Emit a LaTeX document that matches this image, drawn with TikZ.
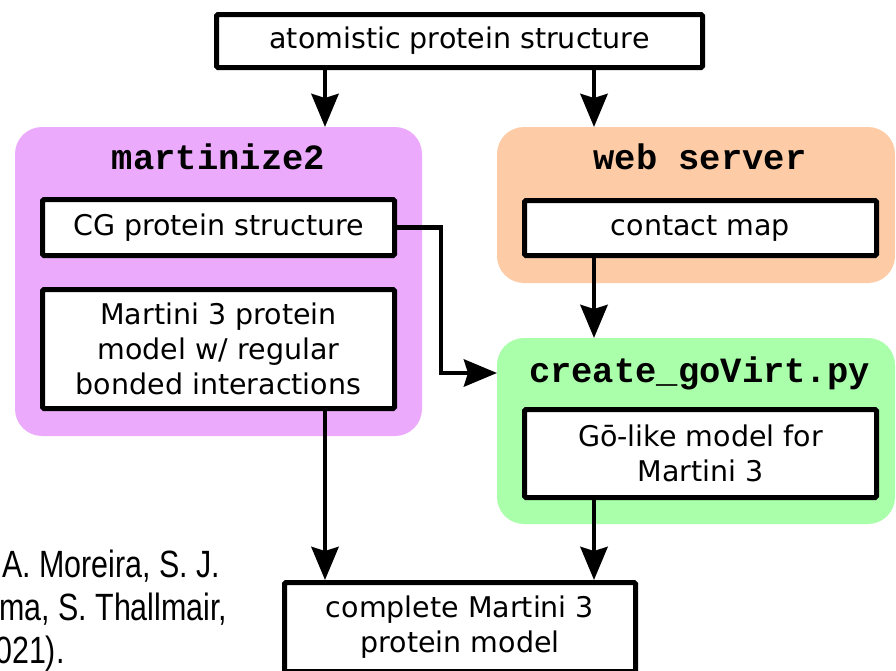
\documentclass[tikz,border=0pt]{standalone}
\usepackage{fontspec}
\setmainfont{DejaVu Sans}
\setmonofont{Liberation Mono}
\newfontfamily\citefont[FakeStretch=0.8]{Liberation Sans}
\usetikzlibrary{arrows.meta}
\definecolor{purplebg}{RGB}{236,170,252}
\definecolor{orangebg}{RGB}{253,203,166}
\definecolor{greenbg}{RGB}{170,255,170}
\begin{document}
\begin{tikzpicture}[x=1pt,y=-1pt,
  wbox/.style={draw=black, line width=5pt, fill=white, rounded corners=1.5pt,
    inner sep=0pt, outer sep=2.5pt, align=center,
    font=\fontsize{28.5}{35}\selectfont},
  grp/.style={rounded corners=27pt, inner sep=0pt, outer sep=0pt},
  ttl/.style={font=\fontsize{35.5}{40}\selectfont\ttfamily\bfseries,
    inner sep=0pt, anchor=base},
  arr/.style={line width=4.8pt, -{Stealth[length=33pt,width=27pt,inset=4pt]}},
  cite/.style={font=\fontsize{38}{43}\selectfont\citefont, anchor=base west,
    inner sep=0pt}]
\useasboundingbox (0,0) rectangle (896,670);
\clip (0,0) rectangle (896,670);

% group backgrounds
\node[grp, fill=purplebg, minimum width=407pt, minimum height=309pt] (mgrp) at (218.5,281.5) {};
\node[grp, fill=orangebg, minimum width=398pt, minimum height=156pt] (ogrp) at (696,205) {};
\node[grp, fill=greenbg, minimum width=398pt, minimum height=186pt] (ggrp) at (696,431) {};

% titles
\node[ttl] (t1) at (218.5,169) {martinize2};
\node[ttl] (t2) at (700,169) {web server};
\node[ttl] (t3) at (699.5,382) {create\_goVirt.py};

% white boxes
\node[wbox, minimum width=486pt, minimum height=53pt] (top) at (459.5,41) {atomistic protein structure};
\node[wbox, minimum width=352pt, minimum height=56pt] (cg) at (218.5,227.5) {CG protein structure};
\node[wbox, minimum width=352pt, minimum height=119pt] (mart) at (218.5,349) {Martini 3 protein\\model w/ regular\\bonded interactions};
\node[wbox, minimum width=352pt, minimum height=55pt] (contact) at (700.5,228) {contact map};
\node[wbox, minimum width=352pt, minimum height=88pt] (go) at (700.5,453.5) {Gō-like model for\\Martini 3};
\node[wbox, minimum width=351pt, minimum height=89pt] (bottom) at (460,627) {complete Martini 3\\protein model};

% helper coordinates
\coordinate (xl) at (325,0);
\coordinate (xr) at (594,0);
\coordinate (bend) at (441,0);
\coordinate (yarr) at (0,373);

% connectors
\draw[arr] (top.south -| xl) -- (mgrp.north -| xl);
\draw[arr] (top.south -| xr) -- (ogrp.north -| xr);
\draw[arr] (contact.south -| xr) -- (ggrp.north -| xr);
\draw[arr] (mart.south -| xl) -- (bottom.north -| xl);
\draw[arr] (go.south -| xr) -- (bottom.north -| xr);
\draw[arr] (cg.east) -- (cg.east -| bend) -- (bend |- yarr) -- (ggrp.west |- yarr);

% citation fragment
\node[cite] (c1) at (2,577) {A. Moreira, S. J.};
\node[cite] (c2) at (-1,620) {ma, S. Thallmair,};
\node[cite] (c3) at (-5,663) {021).};
\end{tikzpicture}
\end{document}
